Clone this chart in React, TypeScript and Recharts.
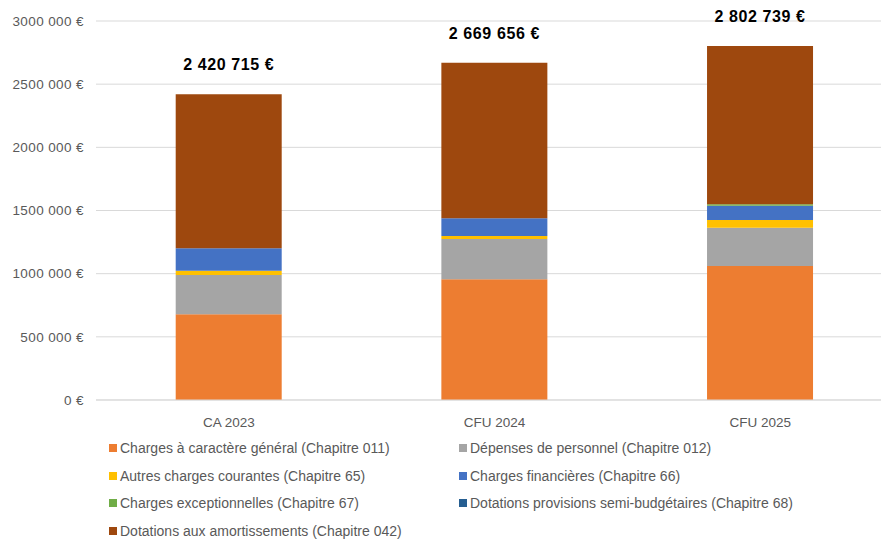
import React from 'react';
import { BarChart, Bar, XAxis, YAxis, CartesianGrid, LabelList } from 'recharts';

const categories = ['CA 2023', 'CFU 2024', 'CFU 2025'];
const totals = [2420715, 2669656, 2802739];
const chap011 = [678000, 955000, 1061000];
const chap012 = [312000, 319000, 303000];
const chap65 = [33000, 24000, 61000];
const chap66 = [178000, 140000, 113000];
const chap67 = [0, 0, 12000];
const chap68 = [0, 0, 0];
const chap042 = [1219715, 1231656, 1252739];
const yTicks = [0, 500000, 1000000, 1500000, 2000000, 2500000, 3000000];

const series = [
  { key: 'c011', name: 'Charges à caractère général (Chapitre 011)', color: '#ED7D31', values: chap011 },
  { key: 'c012', name: 'Dépenses de personnel (Chapitre 012)', color: '#A5A5A5', values: chap012 },
  { key: 'c65', name: 'Autres charges courantes (Chapitre 65)', color: '#FFC000', values: chap65 },
  { key: 'c66', name: 'Charges financières (Chapitre 66)', color: '#4472C4', values: chap66 },
  { key: 'c67', name: 'Charges exceptionnelles (Chapitre 67)', color: '#70AD47', values: chap67 },
  { key: 'c68', name: 'Dotations provisions semi-budgétaires (Chapitre 68)', color: '#255E91', values: chap68 },
  { key: 'c042', name: 'Dotations aux amortissements (Chapitre 042)', color: '#9E480E', values: chap042 },
];

const data = categories.map((c, i) => {
  const row: any = { name: c, total: totals[i] };
  series.forEach((s) => { row[s.key] = s.values[i]; });
  return row;
});

const fmt = (v: number) => {
  const s = Math.round(v).toString();
  const parts: string[] = [];
  for (let i = s.length; i > 0; i -= 3) parts.unshift(s.slice(Math.max(0, i - 3), i));
  return parts.join(' ') + ' €';
};

const fmtTick = (v: number) => {
  if (v === 0) return '0 €';
  const s = v.toString();
  return s.slice(0, s.length - 3) + ' ' + s.slice(s.length - 3) + ' €';
};

const FONT = '"Liberation Sans", Arial, sans-serif';

const TotalLabel = (props: any) => {
  const { x, y, width, index } = props;
  return (
    <text x={x + width / 2} y={y - 24} textAnchor="middle" fontFamily={FONT} fontSize={16} fontWeight="bold" fill="#000" letterSpacing={0.6}>
      {fmt(totals[index])}
    </text>
  );
};

export default function App() {
  const legendRows: any[][] = [];
  for (let i = 0; i < series.length; i += 2) legendRows.push(series.slice(i, i + 2));
  return (
    <div style={{ position: 'absolute', left: 0, top: 0, width: 881, height: 541, overflow: 'hidden', background: '#fff' }}>
      <BarChart width={893} height={541} data={data} margin={{ top: 21, right: 0, bottom: 111, left: 0 }} barCategoryGap="30%">
        <CartesianGrid vertical={false} stroke="#d9d9d9" />
        <XAxis dataKey="name" tickLine={false} axisLine={{ stroke: '#d9d9d9' }} tickMargin={11} height={30}
          tick={{ fontFamily: FONT, fontSize: 13.5, fill: '#595959' }} />
        <YAxis width={96} domain={[0, 3000000]} ticks={yTicks} tickFormatter={fmtTick} tickLine={false} axisLine={false}
          tickMargin={6} tick={{ fontFamily: FONT, fontSize: 13.5, fill: '#595959', letterSpacing: 0.4 }} />
        {series.map((s, i) => (
          <Bar key={s.key} dataKey={s.key} name={s.name} stackId="a" fill={s.color} isAnimationActive={false}>
            {i === series.length - 1 ? <LabelList dataKey="total" content={<TotalLabel />} /> : null}
          </Bar>
        ))}
      </BarChart>
      {legendRows.map((row, r) => row.map((s: any, c: number) => (
        <div key={s.key} style={{ position: 'absolute', left: c === 0 ? 109 : 459, top: 448 + r * 27.7 - 9, height: 18, display: 'flex', alignItems: 'center', fontFamily: FONT, fontSize: 14, color: '#595959', whiteSpace: 'nowrap' }}>
          <span style={{ display: 'inline-block', width: 8, height: 8, background: s.color, marginRight: 3 }} />
          <span>{s.name}</span>
        </div>
      )))}
    </div>
  );
}
